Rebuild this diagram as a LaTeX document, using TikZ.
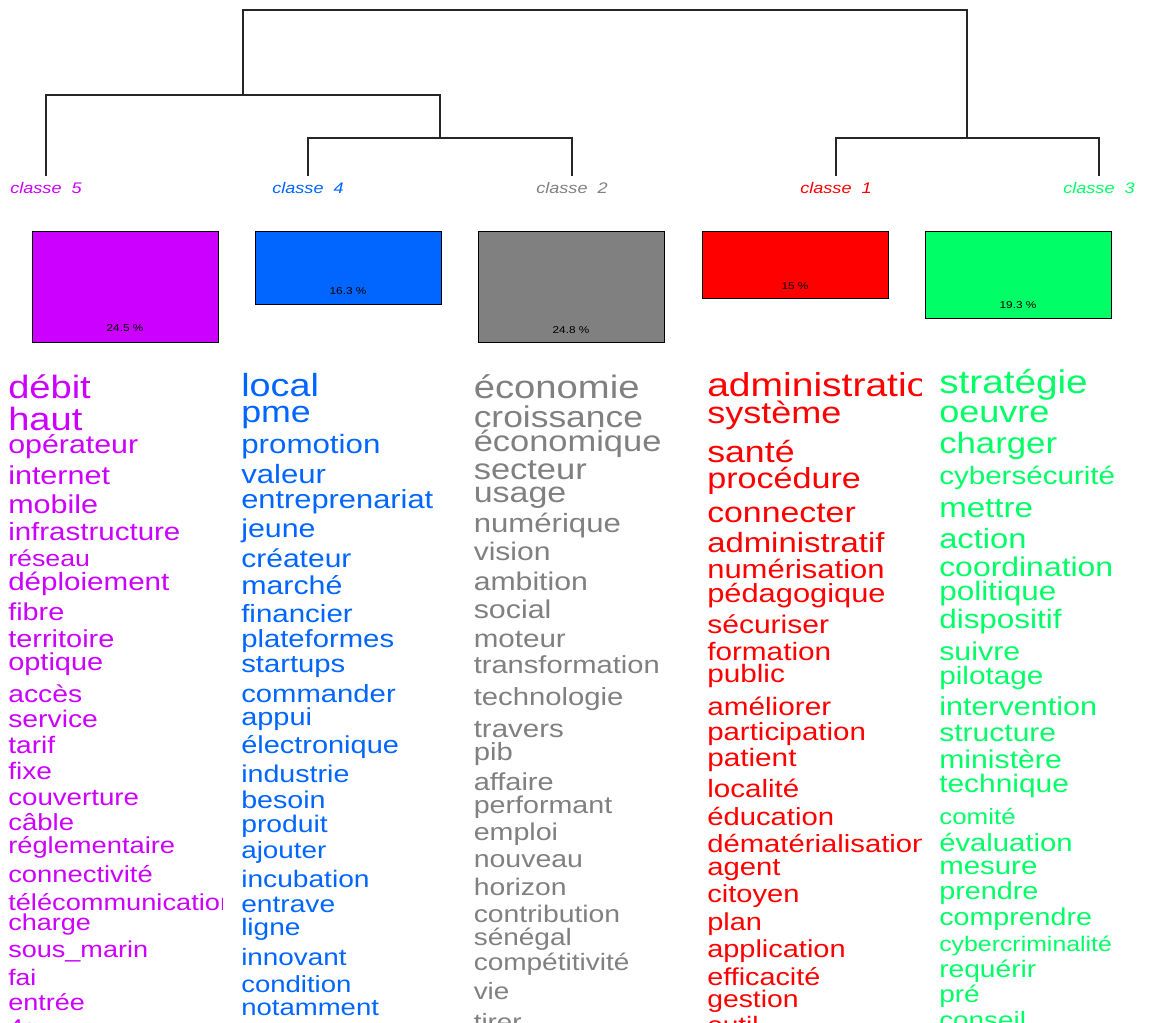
\documentclass[tikz,border=0pt]{standalone}
\usepackage{fontspec}
\usepackage{xcolor}
\usepackage{tikz}
\newfontfamily\wordfont[FakeStretch=1.18]{Liberation Sans}
\newcommand\wsz[1]{\wordfont\fontsize{#1}{#1}\selectfont}
\definecolor{cone}{HTML}{FF0000}
\definecolor{ctwo}{HTML}{808080}
\definecolor{cthree}{HTML}{00FF66}
\definecolor{cfour}{HTML}{0066FF}
\definecolor{cfive}{HTML}{CC00FF}
\begin{document}
\begin{tikzpicture}[x=0.75pt,y=-0.75pt,
  word/.style={anchor=base west,inner sep=0pt},
  branch/.style={black!85,line width=0.8pt},
  klass/.style={anchor=base,inner sep=0pt,font=\wsz{11.5}\itshape},
  pct/.style={inner sep=0pt,font=\wsz{7.5}}]
\useasboundingbox (0,0) rectangle (1149,1023);
% dendrogram
\coordinate (l5) at (46,176);
\coordinate (l4) at (308,176);
\coordinate (l2) at (572,176);
\coordinate (l1) at (836,176);
\coordinate (l3) at (1099,176);
\coordinate (j42) at (440,138);
\coordinate (j13) at (967,138);
\coordinate (j542) at (243,95);
\coordinate (root) at (605,10);
\draw[branch] (l4) |- (j42) -| (l2);
\draw[branch] (l1) |- (j13) -| (l3);
\draw[branch] (l5) |- (j542) -| (j42);
\draw[branch] (j542) |- (root) -| (j13);
% class labels
\node[klass,cfive] (k5) at (46,194) {classe\ \ 5};
\node[klass,cfour] (k4) at (308,194) {classe\ \ 4};
\node[klass,ctwo] (k2) at (572,194) {classe\ \ 2};
\node[klass,cone] (k1) at (836,194) {classe\ \ 1};
\node[klass,cthree] (k3) at (1099,194) {classe\ \ 3};
% boxes
\filldraw[fill=cfive,draw=black,line width=0.6pt] (32,231) rectangle (218,342);
\filldraw[fill=cfour,draw=black,line width=0.6pt] (255,231) rectangle (441,304);
\filldraw[fill=ctwo,draw=black,line width=0.6pt] (478,231) rectangle (664,342);
\filldraw[fill=cone,draw=black,line width=0.6pt] (702,231) rectangle (888,298);
\filldraw[fill=cthree,draw=black,line width=0.6pt] (925,231) rectangle (1111,318);
\node[pct] (p5) at (125,328) {24.5 \%};
\node[pct] (p4) at (348,291) {16.3 \%};
\node[pct] (p2) at (571,330) {24.8 \%};
\node[pct] (p1) at (795,286) {15 \%};
\node[pct] (p3) at (1018,305) {19.3 \%};
% classe 5
\begin{scope}[cfive]
\clip (0,350) rectangle (222,1023);
\node[word,font=\wsz{24.2}] (c5w1) at (8,398) {débit};
\node[word,font=\wsz{24.2}] (c5w2) at (8,431) {haut};
\node[word,font=\wsz{19.3}] (c5w3) at (8,453) {opérateur};
\node[word,font=\wsz{19.4}] (c5w4) at (8,484) {internet};
\node[word,font=\wsz{19.4}] (c5w5) at (8,513) {mobile};
\node[word,font=\wsz{18.75}] (c5w6) at (8,540) {infrastructure};
\node[word,font=\wsz{17.0}] (c5w7) at (8,566) {réseau};
\node[word,font=\wsz{18.8}] (c5w8) at (8,590) {déploiement};
\node[word,font=\wsz{18.3}] (c5w9) at (8,620) {fibre};
\node[word,font=\wsz{18.4}] (c5w10) at (8,647) {territoire};
\node[word,font=\wsz{18.4}] (c5w11) at (8,670) {optique};
\node[word,font=\wsz{18.0}] (c5w12) at (8,702) {accès};
\node[word,font=\wsz{18.0}] (c5w13) at (8,727) {service};
\node[word,font=\wsz{17.9}] (c5w14) at (8,753) {tarif};
\node[word,font=\wsz{17.9}] (c5w15) at (8,779) {fixe};
\node[word,font=\wsz{17.6}] (c5w16) at (8,805) {couverture};
\node[word,font=\wsz{17.5}] (c5w17) at (8,830) {câble};
\node[word,font=\wsz{17.35}] (c5w18) at (8,853) {réglementaire};
\node[word,font=\wsz{17.4}] (c5w19) at (8,882) {connectivité};
\node[word,font=\wsz{17.3}] (c5w20) at (8,910) {télécommunication};
\node[word,font=\wsz{17.2}] (c5w21) at (8,930) {charge};
\node[word,font=\wsz{17.2}] (c5w22) at (8,957) {sous\_marin};
\node[word,font=\wsz{16.9}] (c5w23) at (8,985) {fai};
\node[word,font=\wsz{17.2}] (c5w24) at (8,1010) {entrée};
\node[word,font=\wsz{17.1}] (c5w25) at (8,1035) {4g};
\end{scope}
% classe 4
\begin{scope}[cfour]
\clip (233,350) rectangle (455,1023);
\node[word,font=\wsz{24.0}] (c4w1) at (241,397) {local};
\node[word,font=\wsz{22.75}] (c4w2) at (241,422) {pme};
\node[word,font=\wsz{19.9}] (c4w3) at (241,453) {promotion};
\node[word,font=\wsz{19.8}] (c4w4) at (241,483) {valeur};
\node[word,font=\wsz{19.6}] (c4w5) at (241,508) {entreprenariat};
\node[word,font=\wsz{19.3}] (c4w6) at (241,537) {jeune};
\node[word,font=\wsz{19.1}] (c4w7) at (241,567) {créateur};
\node[word,font=\wsz{19.3}] (c4w8) at (241,594) {marché};
\node[word,font=\wsz{18.75}] (c4w9) at (241,622) {financier};
\node[word,font=\wsz{18.6}] (c4w10) at (241,647) {plateformes};
\node[word,font=\wsz{18.6}] (c4w11) at (241,672) {startups};
\node[word,font=\wsz{18.6}] (c4w12) at (241,702) {commander};
\node[word,font=\wsz{18.4}] (c4w13) at (241,725) {appui};
\node[word,font=\wsz{18.4}] (c4w14) at (241,753) {électronique};
\node[word,font=\wsz{18.2}] (c4w15) at (241,782) {industrie};
\node[word,font=\wsz{18.2}] (c4w16) at (241,808) {besoin};
\node[word,font=\wsz{18.0}] (c4w17) at (241,832) {produit};
\node[word,font=\wsz{17.7}] (c4w18) at (241,858) {ajouter};
\node[word,font=\wsz{17.9}] (c4w19) at (241,887) {incubation};
\node[word,font=\wsz{17.9}] (c4w20) at (241,912) {entrave};
\node[word,font=\wsz{17.8}] (c4w21) at (241,935) {ligne};
\node[word,font=\wsz{17.7}] (c4w22) at (241,965) {innovant};
\node[word,font=\wsz{17.5}] (c4w23) at (241,992) {condition};
\node[word,font=\wsz{17.5}] (c4w24) at (241,1015) {notamment};
\end{scope}
% classe 2
\begin{scope}[ctwo]
\clip (466,350) rectangle (688,1023);
\node[word,font=\wsz{24.3}] (c2w1) at (473.5,398) {économie};
\node[word,font=\wsz{22.5}] (c2w2) at (473.5,427) {croissance};
\node[word,font=\wsz{21.9}] (c2w3) at (473.5,451) {économique};
\node[word,font=\wsz{21.9}] (c2w4) at (473.5,479) {secteur};
\node[word,font=\wsz{21.6}] (c2w5) at (473.5,502) {usage};
\node[word,font=\wsz{19.8}] (c2w6) at (473.5,532) {numérique};
\node[word,font=\wsz{19.1}] (c2w7) at (473.5,560) {vision};
\node[word,font=\wsz{19.2}] (c2w8) at (473.5,590) {ambition};
\node[word,font=\wsz{19.3}] (c2w9) at (473.5,618) {social};
\node[word,font=\wsz{18.8}] (c2w10) at (473.5,647) {moteur};
\node[word,font=\wsz{18.5}] (c2w11) at (473.5,673) {transformation};
\node[word,font=\wsz{18.6}] (c2w12) at (473.5,705) {technologie};
\node[word,font=\wsz{18.75}] (c2w13) at (473.5,737) {travers};
\node[word,font=\wsz{18.6}] (c2w14) at (473.5,760) {pib};
\node[word,font=\wsz{18.4}] (c2w15) at (473.5,790) {affaire};
\node[word,font=\wsz{18.2}] (c2w16) at (473.5,813) {performant};
\node[word,font=\wsz{18.2}] (c2w17) at (473.5,840) {emploi};
\node[word,font=\wsz{18.1}] (c2w18) at (473.5,867) {nouveau};
\node[word,font=\wsz{18.0}] (c2w19) at (473.5,895) {horizon};
\node[word,font=\wsz{18.0}] (c2w20) at (473.5,922) {contribution};
\node[word,font=\wsz{17.8}] (c2w21) at (473.5,945) {sénégal};
\node[word,font=\wsz{17.8}] (c2w22) at (473.5,970) {compétitivité};
\node[word,font=\wsz{17.7}] (c2w23) at (473.5,999) {vie};
\node[word,font=\wsz{17.7}] (c2w24) at (473.5,1030) {tirer};
\end{scope}
% classe 1
\begin{scope}[cone]
\clip (699,350) rectangle (921.5,1023);
\node[word,font=\wsz{24.8}] (c1w1) at (707,397) {administration};
\node[word,font=\wsz{22.9}] (c1w2) at (707,423) {système};
\node[word,font=\wsz{22.7}] (c1w3) at (707,462) {santé};
\node[word,font=\wsz{21.7}] (c1w4) at (707,488) {procédure};
\node[word,font=\wsz{21.5}] (c1w5) at (707,522) {connecter};
\node[word,font=\wsz{20.9}] (c1w6) at (707,552) {administratif};
\node[word,font=\wsz{19.7}] (c1w7) at (707,578) {numérisation};
\node[word,font=\wsz{19.6}] (c1w8) at (707,602) {pédagogique};
\node[word,font=\wsz{19.1}] (c1w9) at (707,633) {sécuriser};
\node[word,font=\wsz{18.9}] (c1w10) at (707,660) {formation};
\node[word,font=\wsz{18.9}] (c1w11) at (707,682) {public};
\node[word,font=\wsz{18.9}] (c1w12) at (707,715) {améliorer};
\node[word,font=\wsz{18.7}] (c1w13) at (707,740) {participation};
\node[word,font=\wsz{18.9}] (c1w14) at (707,766) {patient};
\node[word,font=\wsz{18.8}] (c1w15) at (707,797) {localité};
\node[word,font=\wsz{18.6}] (c1w16) at (707,825) {éducation};
\node[word,font=\wsz{18.6}] (c1w17) at (707,852) {dématérialisation};
\node[word,font=\wsz{18.6}] (c1w18) at (707,875) {agent};
\node[word,font=\wsz{18.5}] (c1w19) at (707,902) {citoyen};
\node[word,font=\wsz{18.4}] (c1w20) at (707,930) {plan};
\node[word,font=\wsz{18.4}] (c1w21) at (707,957) {application};
\node[word,font=\wsz{18.3}] (c1w22) at (707,985) {efficacité};
\node[word,font=\wsz{18.0}] (c1w23) at (707,1007) {gestion};
\node[word,font=\wsz{17.8}] (c1w24) at (707,1033) {outil};
\end{scope}
% classe 3
\begin{scope}[cthree]
\clip (932,350) rectangle (1149,1023);
\node[word,font=\wsz{24.6}] (c3w1) at (939,393) {stratégie};
\node[word,font=\wsz{22.9}] (c3w2) at (939,422) {oeuvre};
\node[word,font=\wsz{22.1}] (c3w3) at (939,453) {charger};
\node[word,font=\wsz{18.8}] (c3w4) at (939,484) {cybersécurité};
\node[word,font=\wsz{21.0}] (c3w5) at (939,517) {mettre};
\node[word,font=\wsz{20.8}] (c3w6) at (939,548) {action};
\node[word,font=\wsz{20.3}] (c3w7) at (939,576) {coordination};
\node[word,font=\wsz{20.0}] (c3w8) at (939,600) {politique};
\node[word,font=\wsz{20.0}] (c3w9) at (939,628) {dispositif};
\node[word,font=\wsz{19.3}] (c3w10) at (939,660) {suivre};
\node[word,font=\wsz{18.9}] (c3w11) at (939,684) {pilotage};
\node[word,font=\wsz{19.4}] (c3w12) at (939,715) {intervention};
\node[word,font=\wsz{19.1}] (c3w13) at (939,741) {structure};
\node[word,font=\wsz{19.2}] (c3w14) at (939,768) {ministère};
\node[word,font=\wsz{19.0}] (c3w15) at (939,792) {technique};
\node[word,font=\wsz{16.5}] (c3w16) at (939,824) {comité};
\node[word,font=\wsz{18.6}] (c3w17) at (939,851) {évaluation};
\node[word,font=\wsz{18.7}] (c3w18) at (939,874) {mesure};
\node[word,font=\wsz{18.3}] (c3w19) at (939,899) {prendre};
\node[word,font=\wsz{18.2}] (c3w20) at (939,925) {comprendre};
\node[word,font=\wsz{15.8}] (c3w21) at (939,951) {cybercriminalité};
\node[word,font=\wsz{17.9}] (c3w22) at (939,977) {requérir};
\node[word,font=\wsz{17.8}] (c3w23) at (939,1002) {pré};
\node[word,font=\wsz{17.7}] (c3w24) at (939,1028) {conseil};
\end{scope}
\end{tikzpicture}
\end{document}
